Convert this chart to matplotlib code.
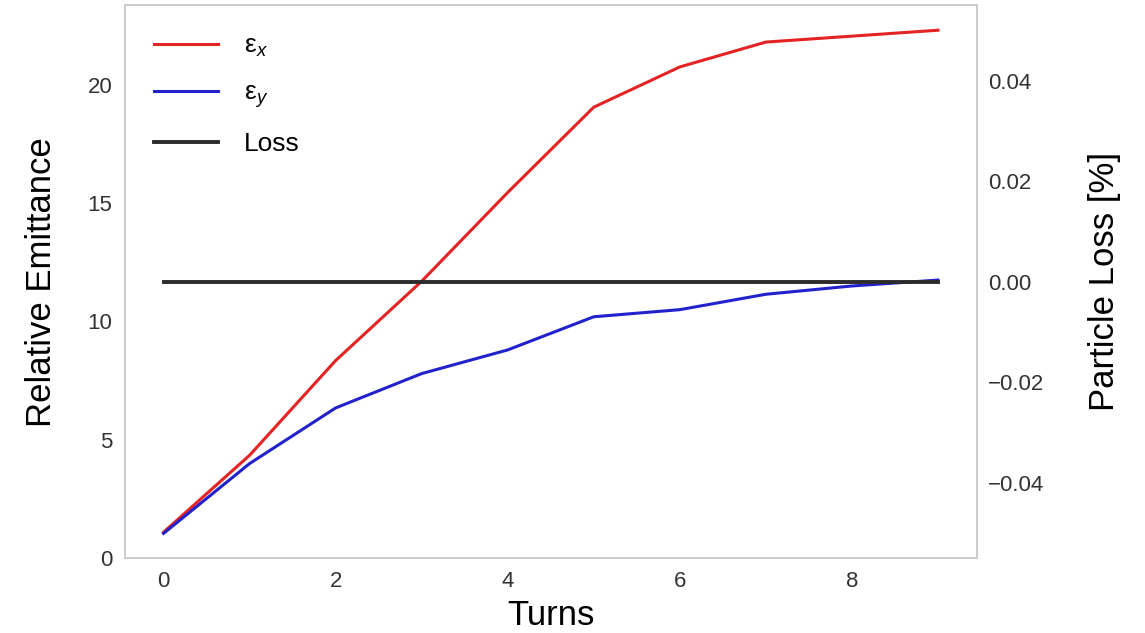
import numpy as np
import matplotlib
matplotlib.use("Agg")
import matplotlib.pyplot as plt

plt.rcParams['font.family'] = ['Liberation Sans', 'DejaVu Sans']
plt.rcParams['mathtext.fontset'] = 'custom'
plt.rcParams['mathtext.it'] = 'Liberation Sans:italic'
plt.rcParams['mathtext.rm'] = 'Liberation Sans'

# emittance growth per turn, relative to the initial value
turns = np.arange(10)
emit_x = [1.1, 4.35, 8.35, 11.7, 15.45, 19.05, 20.75, 21.8, 22.05, 22.3]
emit_y = [1.05, 4.0, 6.35, 7.8, 8.8, 10.2, 10.5, 11.15, 11.5, 11.75]
loss = [0, 0, 0, 0, 0, 0, 0, 0, 0, 0]

fig = plt.figure(figsize=(11.45, 6.33), dpi=100)
ax1 = fig.add_axes([0.109, 0.118, 0.744, 0.874])
ax2 = ax1.twinx()

l1, = ax1.plot(turns, emit_x, color='#e42424', lw=2.2, label='ε$_x$')
l2, = ax1.plot(turns, emit_y, color='#2222cc', lw=2.2, label='ε$_y$')
l3, = ax2.plot(turns, loss, color='#2b2b2b', lw=2.8, label='Loss')

ax1.set_ylim(bottom=0)
ax1.set_xticks([0, 2, 4, 6, 8])
ax1.set_yticks([0, 5, 10, 15, 20])
ax2.set_yticks([-0.04, -0.02, 0.0, 0.02, 0.04])

ax1.set_xlabel("Turns", fontsize=25, labelpad=5)
ax1.set_ylabel("Relative Emittance", fontsize=25, labelpad=21)
ax2.set_ylabel("Particle Loss [%]", fontsize=25, labelpad=32)

for ax in (ax1, ax2):
    ax.tick_params(length=0, labelsize=16, colors='#333333', pad=9)
    for sp in ax.spines.values():
        sp.set_color('#cccccc')
        sp.set_linewidth(1.2)
ax1.tick_params(axis='x', pad=9)
ax2.tick_params(axis='y', pad=8)

ax1.legend(handles=[l1, l2, l3], loc='upper left', frameon=False,
           fontsize=19, handlelength=2.45, labelspacing=0.82,
           borderaxespad=0.7, handletextpad=0.95)

fig.savefig("out.png", dpi=100)
